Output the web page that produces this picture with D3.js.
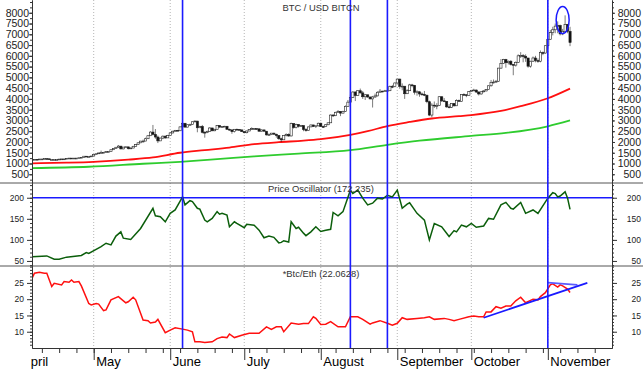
<!DOCTYPE html>
<html>
<head>
<meta charset="utf-8">
<title>BTC / USD BITCN</title>
<script src="https://cdn.jsdelivr.net/npm/d3@7"></script>
<style>
  body { margin: 0; background: #fff; }
  text { font-family: Arial, "Liberation Sans", sans-serif; }
</style>
</head>
<body>
<div id="container"></div>
<script>
// daily candles, first one is 2017-04-06
const firstDay = "04-06";
const opens = [
  1180,1190,1194,1182,1207,1208,1226,1218,1180,1185,1186,1187,1205,1211,1212,1240,1250,1243,1250,1250,1266,1287,1339,1317,1321,
  1348,1421,1452,1490,1507,1517,1550,1555,1640,1700,1756,1808,1678,1761,1772,1688,1719,1800,1880,1960,2040,2042,2150,2290,2460,2350,2230,2050,2180,2270,2190,
  2300,2420,2500,2540,2520,2700,2870,2690,2800,2810,2940,2970,2660,2720,2450,2440,2490,2650,2520,2590,2760,2690,2720,2730,2590,2560,2480,2590,2580,2560,
  2480,2430,2510,2580,2620,2620,2610,2500,2560,2500,2330,2340,2410,2360,2300,2150,2100,2300,2350,2280,2850,2670,2810,2730,2760,2580,2530,2700,2790,2720,2750,
  2870,2720,2710,2800,2890,3250,3220,3380,3420,3340,3420,3650,3850,4070,4320,4160,4380,4280,4100,4190,4090,4000,4090,4140,4310,4360,4350,4380,4380,4580,4570,
  4740,4920,4580,4590,4240,4380,4650,4630,4310,4330,4230,4210,4170,3870,3250,3710,3690,3690,4100,3910,3880,3630,3610,3790,3680,3930,3890,4210,4190,4160,
  4340,4400,4410,4320,4230,4330,4370,4430,4610,4770,4780,4820,5430,5640,5830,5680,5750,5600,5570,5700,6000,6010,5980,5900,5520,5750,5900,5780,5750,6150,6130,
  6470,6770,7080,7210,7380,7410,7020,7140,7460,7140
];
const highs = [
  1198,1200,1196,1210,1215,1232,1230,1220,1192,1192,1192,1210,1215,1218,1245,1260,1255,1255,1258,1272,1300,1345,1345,1330,1350,
  1425,1460,1495,1600,1540,1560,1570,1650,1720,1765,1860,1810,1770,1800,1780,1745,1820,1900,1980,2050,2110,2200,2300,2500,2790,2600,2300,2200,2300,2300,2330,
  2450,2520,2560,2560,2720,2900,2880,2810,2850,2950,3000,2980,2750,2790,2500,2530,2680,2660,2610,2780,2780,2740,2750,2740,2620,2580,2600,2620,2600,2580,
  2500,2530,2600,2680,2640,2630,2620,2580,2570,2510,2400,2420,2430,2380,2320,2200,2310,2400,2400,2900,2880,2850,2830,2790,2770,2640,2710,2810,2800,2760,2900,
  2900,2760,2820,2900,3280,3290,3400,3480,3430,3450,3700,3950,4200,4350,4350,4400,4480,4370,4230,4200,4100,4140,4250,4350,4460,4380,4420,4400,4620,4650,4760,
  4930,4940,4720,4600,4450,4700,4700,4650,4400,4350,4300,4370,4200,3920,3800,3880,3800,4120,4120,4040,3900,3760,3800,3800,3980,3970,4220,4260,4220,4360,
  4420,4470,4440,4350,4360,4400,4460,4620,4880,4900,4880,5440,5850,5860,5860,5780,5800,5600,5740,6070,6170,6080,6070,5900,5770,5970,6000,5880,6250,6200,6480,
  6800,7200,7350,7500,7600,7450,7250,7880,7480,7350
];
const lows = [
  1175,1185,1175,1180,1200,1205,1212,1175,1175,1178,1180,1183,1200,1205,1208,1235,1235,1238,1242,1245,1262,1285,1305,1308,1318,
  1345,1400,1445,1480,1490,1510,1540,1550,1630,1690,1740,1660,1660,1740,1650,1680,1710,1790,1870,1950,1970,2040,2140,2280,2300,2150,1950,2050,2130,2150,2190,
  2300,2400,2480,2500,2510,2700,2670,2680,2790,2800,2920,2450,2650,2400,2200,2410,2480,2500,2500,2580,2670,2650,2700,2560,2520,2380,2440,2540,2550,2470,
  2400,2400,2500,2570,2570,2580,2480,2490,2490,2300,2300,2320,2340,2200,2100,2000,2090,2260,2240,2260,2620,2630,2670,2700,2500,2480,2520,2690,2700,2650,2720,
  2700,2650,2690,2780,2880,3160,3200,3370,3200,3330,3400,3640,3850,4040,3900,4150,4250,4000,3950,4050,3980,3600,4050,4120,4300,4310,4340,4330,4360,4500,4540,
  4700,4470,4400,4000,4230,4370,4540,4200,4150,4100,4150,4130,3800,3200,3150,3580,3520,3670,3860,3850,3590,3560,3580,3640,3670,3860,3880,4140,4080,4150,
  4320,4380,4280,4160,4200,4300,4350,4420,4570,4720,4750,4800,5400,5620,5450,5600,5550,5100,5500,5680,5900,5700,5720,5450,5450,5730,5700,5680,5700,6030,6100,
  6360,6750,6950,7050,7050,6950,6960,7080,7050,6450
];
const closes = [
  1190,1194,1182,1207,1208,1226,1218,1180,1185,1186,1187,1205,1211,1212,1240,1250,1243,1250,1250,1266,1287,1339,1317,1321,1348,
  1421,1452,1490,1507,1517,1550,1555,1640,1700,1756,1808,1678,1761,1772,1688,1719,1800,1880,1960,2040,2042,2150,2290,2460,2350,2230,2050,2180,2270,2190,2300,
  2420,2500,2540,2520,2700,2870,2690,2800,2810,2940,2970,2660,2720,2450,2440,2490,2650,2520,2590,2760,2690,2720,2730,2590,2560,2480,2590,2580,2560,2480,
  2430,2510,2580,2620,2620,2610,2500,2560,2500,2330,2340,2410,2360,2300,2150,2100,2300,2350,2280,2850,2670,2810,2730,2760,2580,2530,2700,2790,2720,2750,2870,
  2720,2710,2800,2890,3250,3220,3380,3420,3340,3420,3650,3850,4070,4320,4160,4380,4280,4100,4190,4090,4000,4090,4140,4310,4360,4350,4380,4380,4580,4570,4740,
  4920,4580,4590,4240,4380,4650,4630,4310,4330,4230,4210,4170,3870,3250,3710,3690,3690,4100,3910,3880,3630,3610,3790,3680,3930,3890,4210,4190,4160,4340,
  4400,4410,4320,4230,4330,4370,4430,4610,4770,4780,4820,5430,5640,5830,5680,5750,5600,5570,5700,6000,6010,5980,5900,5520,5750,5900,5780,5750,6150,6130,6470,
  6770,7080,7210,7380,7410,7020,7140,7460,7140,6620
];

// moving averages
const redMaDates = ["04-06","04-20","05-01","05-15","05-25","06-05","06-15","06-25","07-05","07-15","07-25","08-01","08-13","08-20","08-28","09-06","09-15","09-26","10-01","10-13","10-21","11-01","11-10"];
const redMaValues = [1010,1040,1080,1180,1280,1500,1620,1740,1900,1990,2060,2130,2330,2500,2740,2930,3090,3200,3250,3440,3660,4030,4480];
const greenMaDates = ["04-06","04-29","05-21","06-05","06-20","07-05","07-23","08-13","08-28","09-10","10-01","10-15","11-01","11-10"];
const greenMaValues = [790,850,990,1080,1200,1330,1460,1620,1870,2060,2280,2420,2730,3000];

// Price Oscillator
const oscDates = ["04-06","04-12","04-15","04-17","04-20","04-26","04-28","04-29","05-04","05-06","05-08","05-10","05-12","05-13","05-16","05-20","05-25","05-26","05-28","05-30",
  "06-01","06-03","06-06","06-07","06-09","06-10","06-12","06-13","06-15","06-16","06-18","06-20","06-21","06-22","06-24","06-25","06-27","06-28",
  "07-01","07-02","07-05","07-07","07-09","07-11","07-13","07-15","07-16","07-17","07-19","07-20","07-22","07-23","07-25","07-26","07-28","07-30",
  "08-01","08-03","08-05","08-06","08-08","08-10","08-13","08-14","08-16","08-18","08-20","08-22","08-24","08-26","08-28","08-30",
  "09-01","09-03","09-05","09-06","09-09","09-12","09-14","09-16","09-19","09-22","09-24","09-25","09-27","09-29",
  "10-01","10-03","10-06","10-08","10-10","10-13","10-15","10-17","10-18","10-21","10-23","10-26","10-28",
  "11-01","11-03","11-04","11-05","11-06","11-08","11-09","11-10"];
const oscValues = [60,62,54,54,59,63,70,68,84,92,88,109,119,104,101,127,175,157,155,143,
  163,171,202,183,193,191,175,173,147,143,151,167,161,163,159,131,143,139,
  129,137,135,123,105,109,106,93,94,98,95,143,127,130,116,110,119,131,
  120,123,125,165,157,167,218,210,218,199,183,187,199,197,206,202,
  218,175,185,188,163,147,100,139,131,108,122,119,135,131,
  139,130,133,151,149,183,189,175,173,189,163,171,163,
  199,212,210,202,204,214,199,172.235];

// Btc/Eth ratio
const ratioDates = ["04-06","04-07","04-09","04-11","04-12","04-14","04-15","04-18","04-19","04-21","04-22","04-23","04-25","04-26","04-29","04-30",
  "05-02","05-03","05-05","05-06","05-08","05-11","05-14","05-15","05-17","05-18","05-21","05-23","05-24","05-26","05-27","05-30",
  "06-01","06-03","06-06","06-08","06-10","06-11","06-13","06-15","06-18","06-20","06-22","06-24","06-25","06-27","06-30",
  "07-03","07-07","07-10","07-12","07-14","07-16","07-17","07-20","07-23","07-25","07-27","07-29","07-30",
  "08-01","08-03","08-05","08-08","08-11","08-13","08-16","08-18","08-21","08-22","08-25","08-28","08-30",
  "09-01","09-03","09-05","09-09","09-12","09-14","09-16","09-20","09-22","09-24","09-26","09-30",
  "10-02","10-04","10-06","10-07","10-09","10-11","10-13","10-15","10-17","10-19","10-21","10-23","10-26","10-28","10-29","10-31",
  "11-02","11-03","11-05","11-06","11-07","11-09","11-10"];
const ratioValues = [26.4,28.0,28.3,28.0,28.0,23.9,24.9,24.4,25.4,25.2,25.9,25.2,25.4,24.1,18.7,18.2,
  18.7,18.5,16.5,16.7,19.8,20.8,18.9,19.2,20.6,19.8,13.6,13.4,12.7,13.0,13.8,9.7,
  10.5,11.2,10.8,10.5,10.0,6.9,6.9,6.7,6.9,7.9,8.4,8.2,9.3,8.2,8.9,
  9.5,9.5,11.5,10.7,11.5,11.5,10.0,12.7,12.3,12.5,12.5,14.6,14.1,
  12.2,12.3,13.1,11.5,11.5,14.6,14.6,13.8,12.3,12.7,13.4,12.6,12.0,
  12.6,14.3,13.8,14.1,14.3,14.6,13.8,14.1,13.8,13.4,13.8,14.6,
  14.8,14.6,14.6,16.1,16.1,17.7,17.2,17.9,17.9,19.5,20.6,18.9,20.0,19.8,20.8,22.0,
  24.4,24.7,23.7,24.4,24.1,23.1,22.0628];

// annotations
const markerDates = ["06-06","08-13","08-28","11-01"];
const oscLevel = 200;
const trendA = {dates: ["10-06","11-17"], values: [14.3, 25.0]};
const trendB = {dates: ["11-01","11-13"], values: [25.1, 24.4]};
const circleAt = {date: "11-07", value: 7660};

const monthNames = ["April","May","June","July","August","September","October","November"];
const priceTicks = d3.range(500, 8001, 500);
const oscTicks = [50, 100, 150, 200];
const ratioTicks = [10, 15, 20, 25];

const parse = s => d3.timeParse("%Y-%m-%d")("2017-" + s);

// layout
const W = 643, H = 369;
const left = 32, right = 612;
const topY = 0, sep1 = 183, sep2 = 266, bottomY = 348;

const svg = d3.select("#container")
  .append("svg")
  .attr("width", W)
  .attr("height", H);

const x = d3.scaleTime()
  .domain([parse("04-06"), parse("11-27")])
  .range([left, right]);
const yPrice = d3.scaleLinear().domain([95, 8593]).range([sep1, topY]);
const yOsc = d3.scaleLinear().domain([38, 235]).range([sep2, sep1]);
const yRatio = d3.scaleLinear().domain([5, 30.2]).range([bottomY, sep2]);

const defs = svg.append("defs");
function clip(id, x0, y0, x1, y1) {
  defs.append("clipPath").attr("id", id)
    .append("rect").attr("x", x0).attr("y", y0).attr("width", x1 - x0).attr("height", y1 - y0);
  return `url(#${id})`;
}
const clipTop = clip("cTop", left, topY, right, sep1);
const clipMid = clip("cMid", left, sep1, right, sep2);
const clipBot = clip("cBot", left, sep2, right, bottomY);
const clipX = clip("cX", left - 1, bottomY, W, H);

// month grid
const monthStarts = d3.timeMonth.range(parse("04-01"), parse("12-01"));
svg.append("g")
  .selectAll("line")
  .data(monthStarts.filter(d => x(d) > left))
  .join("line")
  .attr("x1", d => x(d)).attr("x2", d => x(d))
  .attr("y1", topY).attr("y2", bottomY)
  .attr("stroke", "#b5b5b5")
  .attr("stroke-dasharray", "1,2");

// panel separators
svg.append("g")
  .selectAll("line")
  .data([sep1, sep2])
  .join("line")
  .attr("x1", 0).attr("x2", W)
  .attr("y1", d => d).attr("y2", d => d)
  .attr("stroke", "#555");

// ---- top panel: candles + moving averages
const start = parse(firstDay);
const candles = closes.map((c, i) => ({
  date: d3.timeDay.offset(start, i), o: opens[i], h: highs[i], l: lows[i], c: c
}));

const maLine = d3.line().x(d => x(d[0])).y(d => yPrice(d[1])).curve(d3.curveMonotoneX);
const pricePanel = svg.append("g").attr("clip-path", clipTop);

pricePanel.append("path")
  .datum(greenMaDates.map((d, i) => [parse(d), greenMaValues[i]]))
  .attr("d", maLine)
  .attr("fill", "none")
  .attr("stroke", "#2ecc2e")
  .attr("stroke-width", 1.8);

pricePanel.append("path")
  .datum(redMaDates.map((d, i) => [parse(d), redMaValues[i]]))
  .attr("d", maLine)
  .attr("fill", "none")
  .attr("stroke", "#ff1010")
  .attr("stroke-width", 1.8);

pricePanel.append("g")
  .selectAll("line")
  .data(candles)
  .join("line")
  .attr("x1", d => x(d.date)).attr("x2", d => x(d.date))
  .attr("y1", d => yPrice(Math.max(d.h, d.o, d.c)))
  .attr("y2", d => yPrice(Math.min(d.l, d.o, d.c)))
  .attr("stroke", "#222")
  .attr("stroke-width", 0.6);

pricePanel.append("g")
  .selectAll("rect")
  .data(candles)
  .join("rect")
  .attr("x", d => x(d.date) - 1.1)
  .attr("width", 2.2)
  .attr("y", d => yPrice(Math.max(d.o, d.c)))
  .attr("height", d => Math.max(0.8, Math.abs(yPrice(d.o) - yPrice(d.c))))
  .attr("fill", d => d.c >= d.o ? "#fff" : "#111")
  .attr("stroke", "#222")
  .attr("stroke-width", 0.6);

pricePanel.append("ellipse")
  .attr("cx", x(parse(circleAt.date)))
  .attr("cy", yPrice(circleAt.value))
  .attr("rx", 6.5).attr("ry", 13.5)
  .attr("fill", "none")
  .attr("stroke", "#1a1aff")
  .attr("stroke-width", 1.5);

// ---- middle panel: oscillator
const oscPanel = svg.append("g").attr("clip-path", clipMid);
oscPanel.append("line")
  .attr("x1", left).attr("x2", right)
  .attr("y1", yOsc(oscLevel)).attr("y2", yOsc(oscLevel))
  .attr("stroke", "#1a1aff")
  .attr("stroke-width", 1.3);
oscPanel.append("path")
  .datum(oscDates.map((d, i) => [parse(d), oscValues[i]]))
  .attr("d", d3.line().x(d => x(d[0])).y(d => yOsc(d[1])))
  .attr("fill", "none")
  .attr("stroke", "#0b5e0b")
  .attr("stroke-width", 1.5);

// ---- bottom panel: ratio
const ratioPanel = svg.append("g").attr("clip-path", clipBot);
ratioPanel.append("path")
  .datum(ratioDates.map((d, i) => [parse(d), ratioValues[i]]))
  .attr("d", d3.line().x(d => x(d[0])).y(d => yRatio(d[1])))
  .attr("fill", "none")
  .attr("stroke", "#ff1010")
  .attr("stroke-width", 1.5);

[[trendB, "#5b5bff", 1.6], [trendA, "#1a1aff", 1.8]].forEach(([t, col, w]) => {
  ratioPanel.append("line")
    .attr("x1", x(parse(t.dates[0]))).attr("y1", yRatio(t.values[0]))
    .attr("x2", x(parse(t.dates[1]))).attr("y2", yRatio(t.values[1]))
    .attr("stroke", col)
    .attr("stroke-width", w);
});

// vertical markers
svg.append("g")
  .selectAll("line")
  .data(markerDates)
  .join("line")
  .attr("x1", d => x(parse(d))).attr("x2", d => x(parse(d)))
  .attr("y1", topY).attr("y2", bottomY)
  .attr("stroke", "#1a1aff")
  .attr("stroke-width", 1.6);

// ---- titles
const titles = [
  ["BTC / USD BITCN", 11],
  ["Price Oscillator (172.235)", 192],
  ["*Btc/Eth (22.0628)", 277]
];
svg.append("g")
  .selectAll("text")
  .data(titles)
  .join("text")
  .attr("x", 321)
  .attr("y", d => d[1])
  .attr("text-anchor", "middle")
  .style("font-size", "9.4px")
  .style("fill", "#333")
  .text(d => d[0]);

// ---- y axes
function yAxes(scale, ticks, minor, size, labelSize, pad) {
  const fmt = d3.format("d");
  const gl = svg.append("g").attr("transform", `translate(${left},0)`);
  gl.call(d3.axisLeft(scale).tickValues(minor).tickSize(2).tickSizeOuter(0).tickFormat(""));
  gl.append("g").call(d3.axisLeft(scale).tickValues(ticks).tickSize(size).tickPadding(pad).tickSizeOuter(0).tickFormat(fmt));
  const gr = svg.append("g").attr("transform", `translate(${right},0)`);
  gr.call(d3.axisRight(scale).tickValues(minor).tickSize(2).tickSizeOuter(0).tickFormat(""));
  gr.append("g").call(d3.axisRight(scale).tickValues(ticks).tickSize(size).tickSizeOuter(0).tickFormat(fmt));
  gr.selectAll("text").attr("text-anchor", "end").attr("x", 29);
  [gl, gr].forEach(g => {
    g.selectAll("text").style("font-size", labelSize + "px").style("fill", "#222")
      .style("font-family", 'Arial, "Liberation Sans", sans-serif');
    g.selectAll("path, line").attr("stroke", "#333");
  });
}
yAxes(yPrice, priceTicks, d3.range(250, 8600, 250), 3, 10.5, 0);
yAxes(yOsc, oscTicks, d3.range(40, 235, 10), 5, 8.5, 3);
yAxes(yRatio, ratioTicks, d3.range(6, 31, 1), 5, 8.5, 3);

// ---- x axis
const xg = svg.append("g").attr("transform", `translate(0,${bottomY})`);
xg.call(d3.axisBottom(x).tickValues(d3.timeMonday.range(parse("04-06"), parse("11-27"))).tickSize(5).tickSizeOuter(0).tickFormat(""));
xg.selectAll("path, line").attr("stroke", "#333");

const xm = svg.append("g")
  .attr("clip-path", clipX)
  .append("g")
  .attr("transform", `translate(0,${bottomY})`);
xm.call(d3.axisBottom(x).tickValues(monthStarts.slice(0, monthNames.length)).tickSize(12).tickSizeOuter(0)
  .tickFormat((d, i) => monthNames[i]));
xm.select(".domain").remove();
xm.selectAll("line").attr("stroke", "#333");
xm.selectAll("text")
  .attr("text-anchor", "start")
  .attr("x", 2)
  .attr("y", 9)
  .style("font-size", "13px")
  .style("fill", "#000")
  .style("font-family", 'Arial, "Liberation Sans", sans-serif');
</script>
</body>
</html>
